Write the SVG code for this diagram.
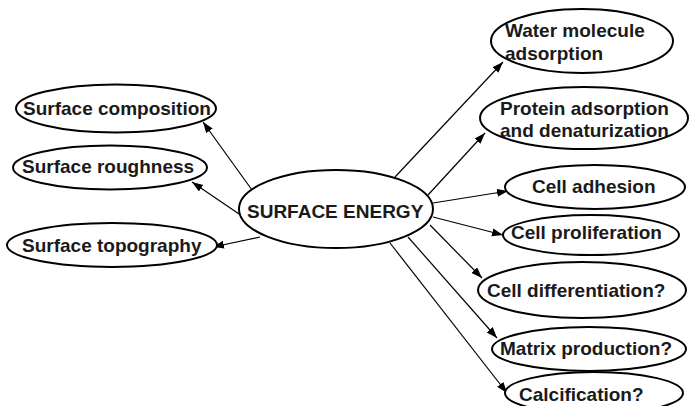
<svg xmlns="http://www.w3.org/2000/svg" width="690" height="406" viewBox="0 0 690 406">
<style>
.n ellipse{fill:#fff;stroke:#000;stroke-width:2}
.n text{font-family:"Liberation Sans",Arial,sans-serif;font-weight:bold;font-size:19px;fill:#1a1a1a}
.c line{stroke:#000;stroke-width:1.2;marker-end:url(#ah)}
</style>
<defs>
<marker id="ah" markerUnits="userSpaceOnUse" markerWidth="12" markerHeight="10" refX="11" refY="4" orient="auto">
<path d="M0,0 L11,4 L0,8 Z" fill="#000"/>
</marker>
</defs>
<rect width="690" height="406" fill="#fff"/>
<g class="c" id="connectors">
<line x1="252" y1="190" x2="203" y2="122"/>
<line x1="242" y1="216" x2="192" y2="182"/>
<line x1="260" y1="237" x2="213" y2="247"/>
<line x1="395" y1="177" x2="503" y2="62"/>
<line x1="428" y1="195" x2="485" y2="133"/>
<line x1="433" y1="203" x2="508" y2="191"/>
<line x1="433" y1="217" x2="503" y2="235"/>
<line x1="430" y1="225" x2="482" y2="278"/>
<line x1="408" y1="237" x2="497" y2="338"/>
<line x1="390" y1="243" x2="507" y2="393"/>
</g>
<g class="n" id="surface-composition">
<ellipse cx="116" cy="108.5" rx="100" ry="24"/>
<text x="23" y="115">Surface composition</text>
</g>
<g class="n" id="surface-roughness">
<ellipse cx="110" cy="167.5" rx="97" ry="22"/>
<text x="22" y="173">Surface roughness</text>
</g>
<g class="n" id="surface-topography">
<ellipse cx="112" cy="245" rx="105" ry="22"/>
<text x="22" y="252">Surface topography</text>
</g>
<g class="n" id="surface-energy">
<ellipse cx="336" cy="209" rx="97" ry="39"/>
<text x="247" y="218">SURFACE ENERGY</text>
</g>
<g class="n" id="water">
<ellipse cx="582" cy="41" rx="91" ry="32"/>
<text x="505" y="37">Water molecule</text>
<text x="505" y="60">adsorption</text>
</g>
<g class="n" id="protein">
<ellipse cx="584" cy="118" rx="104" ry="31"/>
<text x="500" y="115">Protein adsorption</text>
<text x="500" y="137">and denaturization</text>
</g>
<g class="n" id="cell-adhesion">
<ellipse cx="595" cy="187" rx="90" ry="22"/>
<text x="532" y="193">Cell adhesion</text>
</g>
<g class="n" id="cell-proliferation">
<ellipse cx="591" cy="235" rx="88" ry="20"/>
<text x="511" y="239">Cell proliferation</text>
</g>
<g class="n" id="cell-differentiation">
<ellipse cx="582" cy="290" rx="104" ry="28"/>
<text x="487" y="297">Cell differentiation?</text>
</g>
<g class="n" id="matrix">
<ellipse cx="589" cy="349" rx="97" ry="22"/>
<text x="500" y="355">Matrix production?</text>
</g>
<g class="n" id="calcification">
<ellipse cx="594" cy="393" rx="89" ry="21"/>
<text x="519" y="401">Calcification?</text>
</g>
</svg>
